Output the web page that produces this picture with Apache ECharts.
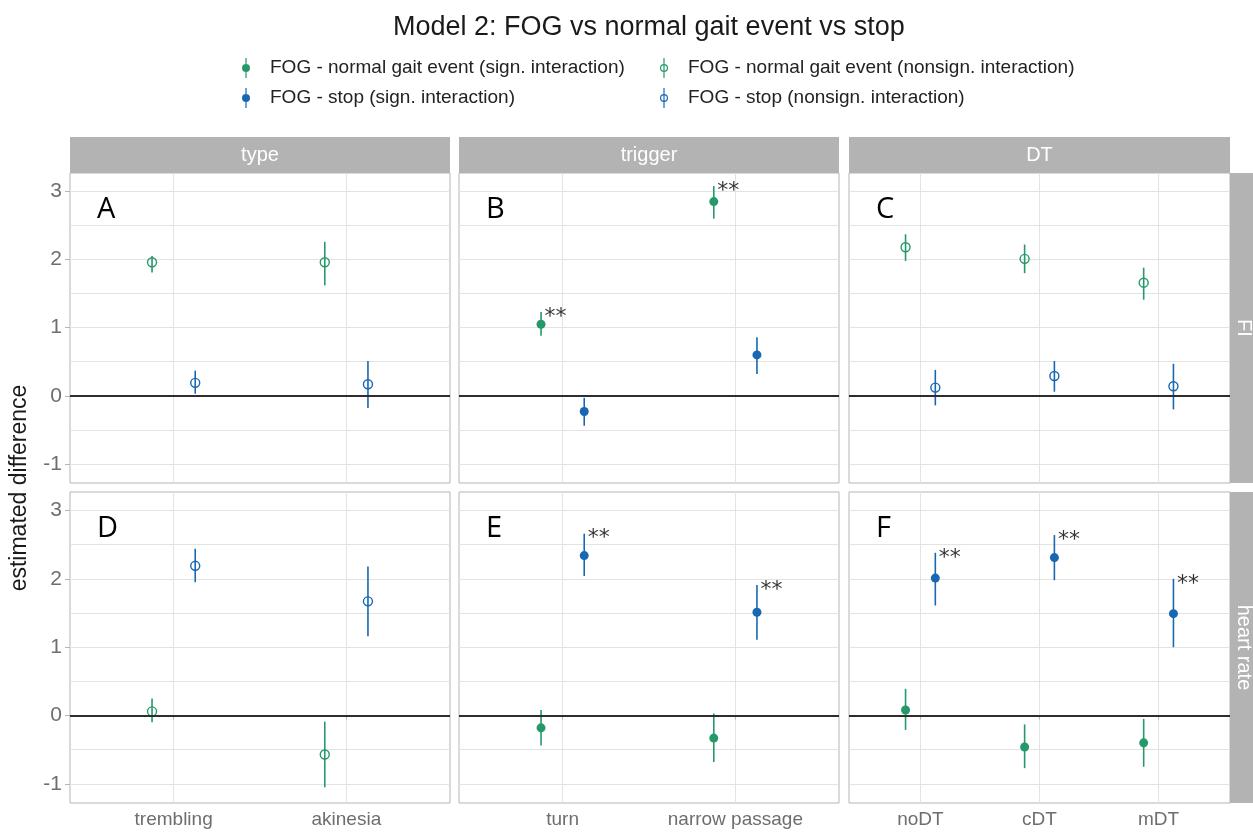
<!DOCTYPE html>
<html>
<head>
<meta charset="utf-8">
<script src="https://cdn.jsdelivr.net/npm/echarts@6/dist/echarts.min.js"></script>
<style>
  html, body { margin: 0; padding: 0; background: #fff; }
  #chart { width: 1253px; height: 833px; }
</style>
</head>
<body>
<div id="chart"></div>
<script>
// categories per column facet
const catsType = ['trembling', 'akinesia']
const catsTrigger = ['turn', 'narrow passage']
const catsDT = ['noDT', 'cDT', 'mDT']

const colStrips = ['type', 'trigger', 'DT']
const rowStrips = ['FI', 'heart rate']
const panelLetters = ['A', 'B', 'C', 'D', 'E', 'F']

// [estimate, lower, upper]
const fiTypeGait = [[1.96, 1.81, 2.05], [1.96, 1.62, 2.26]]
const fiTypeStop = [[0.19, 0.03, 0.37], [0.17, -0.18, 0.51]]
const fiTriggerGait = [[1.05, 0.88, 1.23], [2.85, 2.6, 3.08]]
const fiTriggerStop = [[-0.23, -0.44, -0.03], [0.6, 0.32, 0.86]]
const fiDTGait = [[2.18, 1.98, 2.37], [2.01, 1.8, 2.22], [1.66, 1.41, 1.88]]
const fiDTStop = [[0.12, -0.14, 0.38], [0.29, 0.06, 0.51], [0.14, -0.2, 0.47]]
const hrTypeGait = [[0.06, -0.1, 0.25], [-0.57, -1.05, -0.09]]
const hrTypeStop = [[2.19, 1.95, 2.44], [1.67, 1.16, 2.18]]
const hrTriggerGait = [[-0.18, -0.44, 0.08], [-0.33, -0.68, 0.03]]
const hrTriggerStop = [[2.34, 2.04, 2.66], [1.51, 1.11, 1.91]]
const hrDTGait = [[0.08, -0.21, 0.39], [-0.46, -0.77, -0.13], [-0.4, -0.75, -0.05]]
const hrDTStop = [[2.01, 1.61, 2.38], [2.31, 1.98, 2.64], [1.49, 1.0, 2.0]]

// panel order A..F; filled points = significant interaction
const panelSig = [false, true, false, false, true, true]
// "**" marks per category
const starGait = [[0, 0], [1, 1], [0, 0, 0], [0, 0], [0, 0], [0, 0, 0]]
const starStop = [[0, 0], [0, 0], [0, 0, 0], [0, 0], [1, 1], [1, 1, 1]]

const yTicks = [-1, 0, 1, 2, 3]
const yGrid = [-1, -0.5, 0, 0.5, 1, 1.5, 2, 2.5, 3]

const NAME_GAIT_SIG = 'FOG - normal gait event (sign. interaction)'
const NAME_STOP_SIG = 'FOG - stop (sign. interaction)'
const NAME_GAIT_NON = 'FOG - normal gait event (nonsign. interaction)'
const NAME_STOP_NON = 'FOG - stop (nonsign. interaction)'

const GREEN = '#26996a'
const BLUE = '#1867b2'
const DODGE = 0.125
const FONT = '"Liberation Sans", Arial, sans-serif'

const colCats = [catsType, catsTrigger, catsDT]
const gaitSets = [fiTypeGait, fiTriggerGait, fiDTGait, hrTypeGait, hrTriggerGait, hrDTGait]
const stopSets = [fiTypeStop, fiTriggerStop, fiDTStop, hrTypeStop, hrTriggerStop, hrDTStop]

const colLeft = [70, 459, 849]
const colWidth = [380, 380, 381]
const rowTop = [173, 492]
const rowHeight = [310, 311]

const chart = echarts.init(document.getElementById('chart'))

const grids = []
const xAxes = []
const yAxes = []
const series = []
const graphics = []

function errorBarSeries(p, name, color, rows, offset) {
  return {
    type: 'custom',
    name,
    xAxisIndex: p,
    yAxisIndex: p * 2,
    z: 2,
    silent: true,
    data: rows.map((d, i) => [i + 1 + offset, d[1], d[2]]),
    encode: { x: 0, y: [1, 2] },
    renderItem(params, api) {
      const lo = api.coord([api.value(0), api.value(1)])
      const hi = api.coord([api.value(0), api.value(2)])
      return {
        type: 'line',
        shape: { x1: lo[0], y1: lo[1], x2: hi[0], y2: hi[1] },
        style: { stroke: color, lineWidth: 1.6 },
      }
    },
  }
}

function pointSeries(p, name, color, rows, offset, filled) {
  return {
    type: 'scatter',
    name,
    xAxisIndex: p,
    yAxisIndex: p * 2,
    z: 3,
    symbol: 'circle',
    symbolSize: 9,
    itemStyle: filled
      ? { color, opacity: 1 }
      : { color: 'rgba(255,255,255,0)', borderColor: color, borderWidth: 1.4, opacity: 1 },
    data: rows.map((d, i) => [i + 1 + offset, d[0]]),
  }
}

function starSeries(p, rows, stars, offset) {
  const data = []
  rows.forEach((d, i) => {
    if (stars[i]) data.push([i + 1 + offset, d[2]])
  })
  return {
    type: 'scatter',
    xAxisIndex: p,
    yAxisIndex: p * 2,
    z: 4,
    silent: true,
    symbolSize: 1,
    itemStyle: { color: 'rgba(0,0,0,0)' },
    label: {
      show: true,
      formatter: '**',
      position: 'right',
      distance: 3,
      offset: [0, 5],
      color: '#000',
      fontSize: 22,
      fontFamily: '"DejaVu Sans", sans-serif',
    },
    data,
  }
}

for (let p = 0; p < 6; p++) {
  const r = Math.floor(p / 3)
  const c = p % 3
  const cats = colCats[c]
  const n = cats.length
  const ticks = cats.map((_, i) => i + 1)
  const sig = panelSig[p]

  grids.push({
    left: colLeft[c],
    top: rowTop[r],
    width: colWidth[c],
    height: rowHeight[r],
    show: true,
    backgroundColor: '#fff',
    borderColor: '#b5b5b5',
    borderWidth: 1,
  })

  xAxes.push({
    type: 'value',
    gridIndex: p,
    position: 'bottom',
    min: 0.4,
    max: n + 0.6,
    axisLine: { show: false },
    axisTick: { show: r === 1, customValues: ticks, length: 4, lineStyle: { color: '#b5b5b5' } },
    axisLabel: {
      show: r === 1,
      customValues: ticks,
      formatter: (v) => cats[Math.round(v) - 1],
      color: '#6e6e6e',
      fontSize: 19,
      fontFamily: FONT,
      margin: 7,
    },
    splitLine: { show: true, lineStyle: { color: '#e3e3e3', width: 1 } },
  })

  // grid lines
  yAxes.push({
    type: 'value',
    gridIndex: p,
    position: 'left',
    min: -1.28,
    max: 3.27,
    axisLine: { show: false },
    axisTick: { show: false, customValues: yGrid },
    axisLabel: { show: false },
    splitLine: { show: true, lineStyle: { color: '#e3e3e3', width: 1 } },
  })
  // tick labels (left column only)
  yAxes.push({
    type: 'value',
    gridIndex: p,
    position: 'left',
    offset: 0,
    min: -1.28,
    max: 3.27,
    axisLine: { show: false },
    axisTick: { show: c === 0, customValues: yTicks, length: 5, lineStyle: { color: '#b5b5b5' } },
    axisLabel: {
      show: c === 0,
      customValues: yTicks,
      color: '#6e6e6e',
      fontSize: 21,
      fontFamily: FONT,
      margin: 8,
    },
    splitLine: { show: false },
  })

  const gaitName = sig ? NAME_GAIT_SIG : NAME_GAIT_NON
  const stopName = sig ? NAME_STOP_SIG : NAME_STOP_NON

  series.push(errorBarSeries(p, gaitName, GREEN, gaitSets[p], -DODGE))
  series.push(errorBarSeries(p, stopName, BLUE, stopSets[p], DODGE))

  const gaitPoints = pointSeries(p, gaitName, GREEN, gaitSets[p], -DODGE, sig)
  gaitPoints.markLine = {
    silent: true,
    symbol: 'none',
    label: { show: false },
    lineStyle: { color: '#2e2e2e', width: 1.8, type: 'solid', opacity: 1 },
    data: [{ yAxis: 0 }],
  }
  series.push(gaitPoints)
  series.push(pointSeries(p, stopName, BLUE, stopSets[p], DODGE, sig))
  series.push(starSeries(p, gaitSets[p], starGait[p], -DODGE))
  series.push(starSeries(p, stopSets[p], starStop[p], DODGE))

  graphics.push({
    type: 'text',
    left: colLeft[c] + 27,
    top: rowTop[r] + 22,
    silent: true,
    style: { text: panelLetters[p], fontSize: 29, fontFamily: '"Open Sans", sans-serif', fill: '#000' },
  })
}

// column strips
colStrips.forEach((label, c) => {
  graphics.push({
    type: 'rect',
    shape: { x: colLeft[c], y: 137, width: colWidth[c], height: 36 },
    style: { fill: '#b3b3b3' },
    silent: true,
  })
  graphics.push({
    type: 'text',
    x: colLeft[c] + colWidth[c] / 2,
    y: 155,
    silent: true,
    style: { text: label, fill: '#fff', fontSize: 20, fontFamily: FONT, align: 'center', verticalAlign: 'middle' },
  })
})

// row strips
rowStrips.forEach((label, r) => {
  graphics.push({
    type: 'rect',
    shape: { x: 1230, y: rowTop[r], width: 36, height: rowHeight[r] },
    style: { fill: '#b3b3b3' },
    silent: true,
  })
  graphics.push({
    type: 'text',
    x: 1244,
    y: rowTop[r] + rowHeight[r] / 2,
    rotation: -Math.PI / 2,
    silent: true,
    style: { text: label, fill: '#fff', fontSize: 20, fontFamily: FONT, align: 'center', verticalAlign: 'middle' },
  })
})

// y axis title
graphics.push({
  type: 'text',
  x: 20,
  y: 488,
  rotation: Math.PI / 2,
  silent: true,
  style: { text: 'estimated difference', fill: '#1a1a1a', fontSize: 23, fontFamily: FONT, align: 'center', verticalAlign: 'middle' },
})

const ICON_FILLED = 'path://M4.4,0H5.6V20H4.4Z M1,10A4,4 0 1,1 9,10A4,4 0 1,1 1,10Z'
const ICON_OPEN = 'path://M4.4,0H5.6V20H4.4Z M1,10A4,4 0 1,1 9,10A4,4 0 1,1 1,10Z M2.2,10A2.8,2.8 0 1,0 7.8,10A2.8,2.8 0 1,0 2.2,10Z'

const legendBase = {
  orient: 'vertical',
  top: 53,
  itemWidth: 10,
  itemHeight: 20,
  itemGap: 10,
  selectedMode: false,
  textStyle: { fontSize: 19, color: '#222', fontFamily: FONT, padding: [0, 0, 0, 14] },
}

chart.setOption({
  animation: false,
  backgroundColor: '#fff',
  title: {
    text: 'Model 2: FOG vs normal gait event vs stop',
    left: 388,
    top: 9,
    textStyle: { fontSize: 27, fontWeight: 'normal', color: '#1a1a1a', fontFamily: FONT },
  },
  legend: [
    Object.assign({}, legendBase, {
      left: 237,
      data: [
        { name: NAME_GAIT_SIG, icon: ICON_FILLED, itemStyle: { color: GREEN, borderWidth: 0 } },
        { name: NAME_STOP_SIG, icon: ICON_FILLED, itemStyle: { color: BLUE, borderWidth: 0 } },
      ],
    }),
    Object.assign({}, legendBase, {
      left: 655,
      data: [
        { name: NAME_GAIT_NON, icon: ICON_OPEN, itemStyle: { color: GREEN, borderWidth: 0 } },
        { name: NAME_STOP_NON, icon: ICON_OPEN, itemStyle: { color: BLUE, borderWidth: 0 } },
      ],
    }),
  ],
  grid: grids,
  xAxis: xAxes,
  yAxis: yAxes,
  series,
  graphic: graphics,
})
</script>
</body>
</html>
